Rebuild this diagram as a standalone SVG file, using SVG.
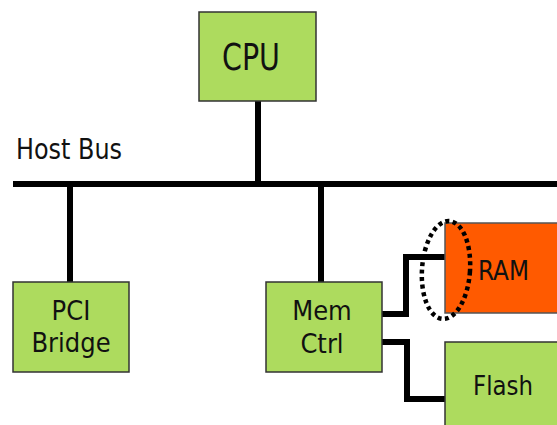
<svg xmlns="http://www.w3.org/2000/svg" width="557" height="425" viewBox="0 0 557 425">
<style>
.box{fill:#ADDB5E;stroke:#333;stroke-width:1.5}
.ram{fill:#FF5A00;stroke:#555;stroke-width:1.5}
.t{font-family:"DejaVu Sans Condensed","DejaVu Sans",sans-serif;fill:#111;text-anchor:middle}
.w{fill:none;stroke:#000;stroke-width:6}
</style>
<rect width="557" height="425" fill="#fff"/>
<g id="connectors">
<line class="w" x1="258" y1="101" x2="258" y2="184"/>
<line class="w" x1="13" y1="184" x2="557" y2="184"/>
<line class="w" x1="70" y1="184" x2="70" y2="282"/>
<line class="w" x1="321" y1="184" x2="321" y2="282"/>
<polyline class="w" points="382,314 406,314 406,257 445,257"/>
<polyline class="w" points="382,342 407,342 407,399 445,399"/>
</g>
<text class="t" x="16" y="159" font-size="28" textLength="106" lengthAdjust="spacingAndGlyphs" style="text-anchor:start">Host Bus</text>
<g id="cpu"><rect class="box" x="199" y="12" width="117" height="89"/><text class="t" x="222" y="70" font-size="37" textLength="58" lengthAdjust="spacingAndGlyphs" style="text-anchor:start">CPU</text></g>
<g id="pci"><rect class="box" x="13" y="282" width="116" height="90"/><text class="t" x="71" y="320" font-size="27">PCI</text><text class="t" x="71" y="352" font-size="27">Bridge</text></g>
<g id="memctrl"><rect class="box" x="266" y="282" width="116" height="90"/><text class="t" x="322" y="320" font-size="27">Mem</text><text class="t" x="322" y="353" font-size="27">Ctrl</text></g>
<g id="ram"><rect class="ram" x="445" y="223" width="120" height="90"/><text class="t" x="478" y="280" font-size="26" textLength="51" lengthAdjust="spacingAndGlyphs" style="text-anchor:start">RAM</text></g>
<g id="flash"><rect class="box" x="445" y="342" width="120" height="90"/><text class="t" x="473" y="395" font-size="27" textLength="60" lengthAdjust="spacingAndGlyphs" style="text-anchor:start">Flash</text></g>
<g id="highlight"><ellipse cx="446" cy="270" rx="24" ry="49" fill="none" stroke="#000" stroke-width="4.5" stroke-dasharray="4 3.5" transform="rotate(4 446 270)"/></g>
</svg>
